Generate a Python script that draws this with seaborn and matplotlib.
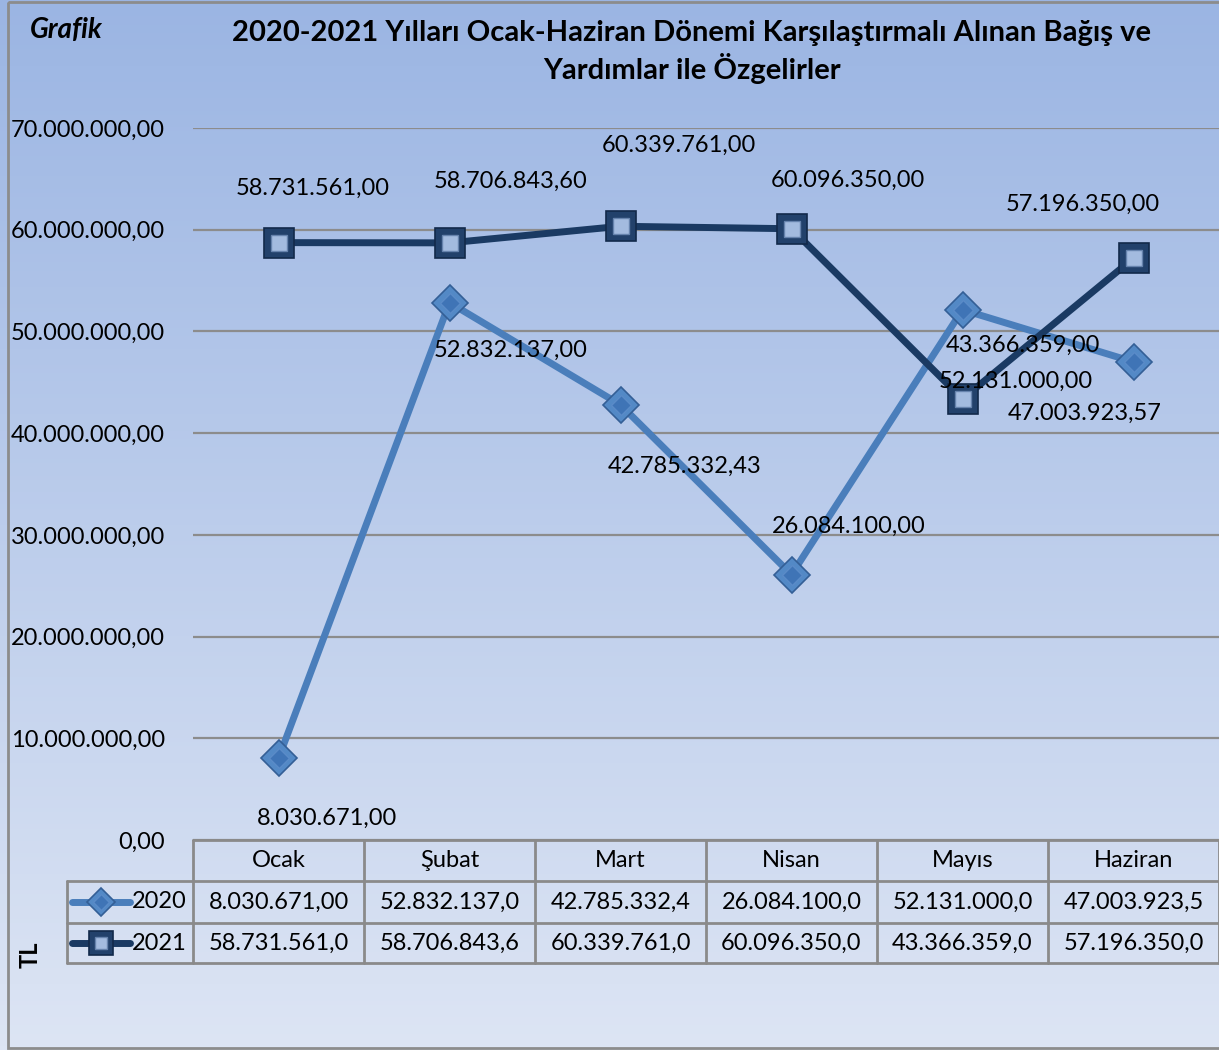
import numpy as np
import pandas as pd
import matplotlib.pyplot as plt
import seaborn as sns

# chart data
months = ['Ocak', 'Şubat', 'Mart', 'Nisan', 'Mayıs', 'Haziran']
years = ['2020', '2021']
values_2020 = [8030671.00, 52832137.00, 42785332.43, 26084100.00,
               52131000.00, 47003923.57]
values_2021 = [58731561.00, 58706843.60, 60339761.00, 60096350.00,
               43366359.00, 57196350.00]
y_ticks = [0, 10000000, 20000000, 30000000, 40000000, 50000000, 60000000,
           70000000]
title = ('2020-2021 Yılları Ocak-Haziran Dönemi Karşılaştırmalı Alınan Bağış ve\n'
         'Yardımlar ile Özgelirler')


def tl(v):
    s = f'{v:,.2f}'
    return s.replace(',', '_').replace('.', ',').replace('_', '.')


df = pd.DataFrame({
    'Ay': months * 2,
    'Yıl': [years[0]] * 6 + [years[1]] * 6,
    'Tutar': values_2020 + values_2021,
})

sns.set_theme(style='white')
plt.rcParams['font.family'] = ['Lato', 'DejaVu Sans']
plt.rcParams['text.color'] = 'black'
plt.rcParams['ytick.color'] = 'black'

W, H = 1219, 1050
FS = 17
fig = plt.figure(figsize=(W / 100, H / 100), dpi=100)

# gradient background + frame
bg = fig.add_axes([0, 0, 1, 1], zorder=0)
top = np.array([155, 181, 227]) / 255
bot = np.array([221, 229, 244]) / 255
t = np.linspace(0, 1, 256)[:, None, None]
grad = top * (1 - t) + bot * t
grad = np.repeat(grad, 2, axis=1)
bg.imshow(grad, extent=[0, W, H, 0], aspect='auto')
bg.set_xlim(0, W)
bg.set_ylim(H, 0)
bg.axis('off')
bg.add_patch(plt.Rectangle((8, 2), W, H - 4, fill=False, ec='#8c8c8c', lw=2))

colors = {'2020': '#4a7ebb', '2021': '#1a3a63'}
markers = {'2020': 'D', '2021': 's'}
edge = {'2020': '#345f96', '2021': '#12294a'}
inner = {'2020': ('#3f74b6', '#5a8bc8'), '2021': ('#a3bbdf', '#6683ad')}

x0, y_top, y_bot = 193, 128, 840
ax = fig.add_axes([x0 / W, (H - y_bot) / H, (W - x0) / W, (y_bot - y_top) / H],
                  zorder=2)
ax.patch.set_alpha(0)
sns.lineplot(data=df, x='Ay', y='Tutar', hue='Yıl', style='Yıl',
             palette=colors, markers=markers, dashes=False, sort=False,
             linewidth=5, markersize=0, legend=False, ax=ax)
# markers with inner highlight
for yr, vals, ms, ims in [('2020', values_2020, 18, 10), ('2021', values_2021, 22, 12)]:
    ax.plot(months, vals, ls='none', marker=markers[yr], ms=ms,
            mfc='#5389c6' if yr == '2020' else '#22416b', mec=edge[yr],
            mew=1.2, zorder=4)
    ax.plot(months, vals, ls='none', marker=markers[yr], ms=ims,
            mfc=inner[yr][0], mec=inner[yr][1], mew=1, zorder=5)

ax.set_xlim(-0.5, 5.5)
ax.set_ylim(0, 70000000)
ax.set_yticks(y_ticks)
ax.set_yticklabels([tl(v) for v in y_ticks], fontsize=FS)
ax.tick_params(axis='y', length=0, pad=20)
ax.tick_params(axis='x', length=0, labelbottom=False)
ax.set_xlabel('')
ax.set_ylabel('')
ax.grid(axis='y', color='#8c8c8c', lw=1.6)
for s in ax.spines.values():
    s.set_visible(False)

# data labels
offsets = {
    '2020': [(49, -60), (61, -48), (64, -62), (57, 48), (53, -72), (-49, -51)],
    '2021': [(34, 54), (61, 62), (58, 81), (56, 48), (60, 54), (-51, 54)],
}
for yr, vals in zip(years, [values_2020, values_2021]):
    for m, v, off in zip(months, vals, offsets[yr]):
        ax.annotate(tl(v), (m, v), xytext=off, textcoords='offset pixels',
                    ha='center', va='center', fontsize=FS, zorder=6)

# data table
ov = fig.add_axes([0, 0, 1, 1], zorder=3)
ov.set_xlim(0, W)
ov.set_ylim(H, 0)
ov.axis('off')
colw = (W - x0) / len(months)
edges = [x0 + i * colw for i in range(len(months) + 1)]
rows = [840, 881, 923, 963]
lc = '#8a8a8a'
ov.plot([x0, W], [rows[0]] * 2, color=lc, lw=2)
for r in rows[1:]:
    ov.plot([67, W], [r] * 2, color=lc, lw=2)
for e in edges:
    ov.plot([e, e], [rows[0], rows[3]], color=lc, lw=2)
ov.plot([67, 67], [rows[1], rows[3]], color=lc, lw=2)
for i, m in enumerate(months):
    cx = (edges[i] + edges[i + 1]) / 2
    ov.text(cx, (rows[0] + rows[1]) / 2, m, ha='center', va='center', fontsize=FS)
    for j, vals in enumerate([values_2020, values_2021]):
        ov.text(cx, (rows[j + 1] + rows[j + 2]) / 2, tl(vals[i])[:12],
                ha='center', va='center', fontsize=FS)
for j, yr in enumerate(years):
    cy = (rows[j + 1] + rows[j + 2]) / 2
    ov.plot([72, 130], [cy, cy], color=colors[yr], lw=5, solid_capstyle='round')
    ms, ims = (14, 8) if yr == '2020' else (17, 9)
    ov.plot([101], [cy], marker=markers[yr], ms=ms,
            mfc='#5389c6' if yr == '2020' else '#22416b', mec=edge[yr], mew=1.2)
    ov.plot([101], [cy], marker=markers[yr], ms=ims,
            mfc=inner[yr][0], mec=inner[yr][1], mew=1)
    ov.text(187, cy, yr, ha='right', va='center', fontsize=FS)

ov.text(30, 955, 'TL', rotation=90, ha='center', va='center', fontsize=FS,
        fontweight='bold')
ov.text(30, 30, 'Grafik', ha='left', va='center', fontsize=20,
        fontweight='bold', fontstyle='italic')
ov.text(692, 52, title, ha='center', va='center', fontsize=21,
        fontweight='bold', linespacing=1.25)

fig.savefig('out.png', dpi=100)
